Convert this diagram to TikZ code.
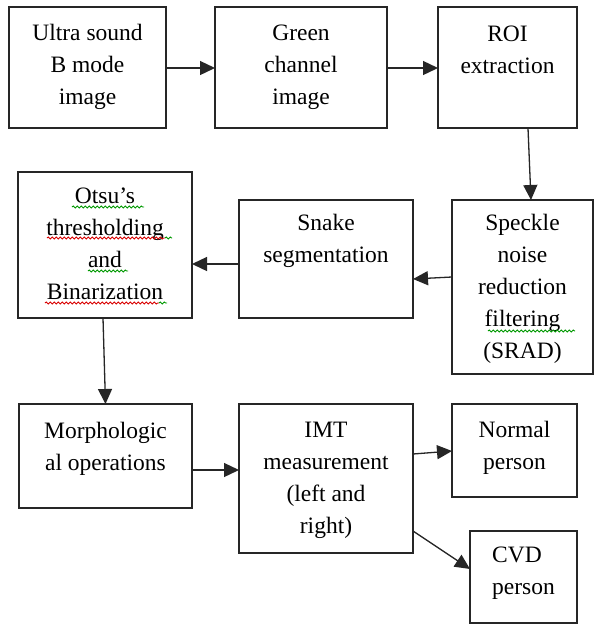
\documentclass[tikz,border=0pt]{standalone}
\usepackage{fontspec}
\setmainfont{Liberation Serif}
\usetikzlibrary{arrows.meta,decorations.pathmorphing}
\begin{document}
\begin{tikzpicture}[x=1pt,y=-1pt,
  box/.style={draw=black!85, line width=1.4pt, fill=white, inner sep=0pt, outer sep=0pt},
  txt/.style={inner sep=0pt, align=center, anchor=north, font=\fontsize{23.5}{32}\selectfont},
  arr/.style={draw=black!85, line width=1.3pt, -{Triangle[length=15pt,width=14pt]}},
  redsq/.style={draw=red!85!black, line width=0.9pt, decorate, decoration={snake, amplitude=1pt, segment length=4pt}},
  grnsq/.style={draw=green!60!black, line width=0.9pt, decorate, decoration={snake, amplitude=1pt, segment length=4pt}}]
\useasboundingbox (0,0) rectangle (595,625);
\fill[white] (0,0) rectangle (595,625);
% boxes
\node[box, minimum width=157pt, minimum height=121pt] (us) at (87.5,67.5) {};
\node[box, minimum width=172pt, minimum height=121pt] (gc) at (301,67.5) {};
\node[box, minimum width=139pt, minimum height=121pt] (roi) at (507.5,67.5) {};
\node[box, minimum width=141pt, minimum height=174pt] (sp) at (522.5,287) {};
\node[box, minimum width=174pt, minimum height=118pt] (sn) at (326,259) {};
\node[box, minimum width=174pt, minimum height=146pt] (ot) at (105,245) {};
\node[box, minimum width=173pt, minimum height=104pt] (mo) at (105.5,456) {};
\node[box, minimum width=174pt, minimum height=149pt] (imt) at (326,478.5) {};
\node[box, minimum width=125pt, minimum height=93pt] (no) at (514.5,450.5) {};
\node[box, minimum width=107pt, minimum height=92pt] (cvd) at (523.5,577) {};
% texts
\node[txt] (t1) at ([yshift=-10.6pt]us.north) {\strut Ultra sound\\B mode\\image};
\node[txt] (t2) at ([yshift=-10.6pt]gc.north) {\strut Green\\channel\\image};
\node[txt] (t3) at ([yshift=-12pt]roi.north) {\strut ROI\\extraction};
\node[txt] (t4) at ([yshift=-8pt]sp.north) {\strut Speckle\\noise\\reduction\\filtering\\(SRAD)};
\node[txt] (t5) at ([yshift=-8pt]sn.north) {\strut Snake\\segmentation};
\node[txt] (t6) at ([yshift=-8.6pt]ot.north) {\strut Otsu’s\\thresholding\\and\\Binarization};
\node[txt] (t7) at ([yshift=-11.6pt]mo.north) {\strut Morphologic\\al operations};
\node[txt] (t8) at ([yshift=-10.6pt]imt.north) {\strut IMT\\measurement\\(left and\\right)};
\node[txt] (t9) at ([yshift=-10.6pt]no.north) {\strut Normal\\person};
\node[txt, align=left] (t10) at ([yshift=-8.6pt]cvd.north) {\strut CVD\\person};
% spell-check marks
\draw[grnsq] (72,207) -- (144,207);
\draw[redsq] (47,238) -- (165,238);
\draw[grnsq] (165,238) -- (172,238);
\draw[grnsq] (88,271) -- (128,271);
\draw[redsq] (45,303) -- (159,303);
\draw[grnsq] (159,303) -- (167,303);
\draw[grnsq] (488,331) -- (575,331);
% connectors
\draw[arr] (us.east |- 0,68) -- (gc.west |- 0,68);
\draw[arr] (gc.east |- 0,68) -- (roi.west |- 0,68);
\draw[arr] ([xshift=20.5pt]roi.south) -- ([xshift=8.5pt]sp.north);
\draw[arr] (sp.west |- 0,277) -- (sn.east |- 0,279);
\draw[arr] (sn.west |- 0,264) -- (ot.east |- 0,264);
\draw[arr] ([xshift=-2pt]ot.south) -- (mo.north);
\draw[arr] (mo.east |- 0,470) -- (imt.west |- 0,470);
\draw[arr] (imt.east |- 0,454) -- (no.west |- 0,451);
\draw[arr] (imt.east |- 0,531) -- (cvd.west |- 0,569);
\end{tikzpicture}
\end{document}
